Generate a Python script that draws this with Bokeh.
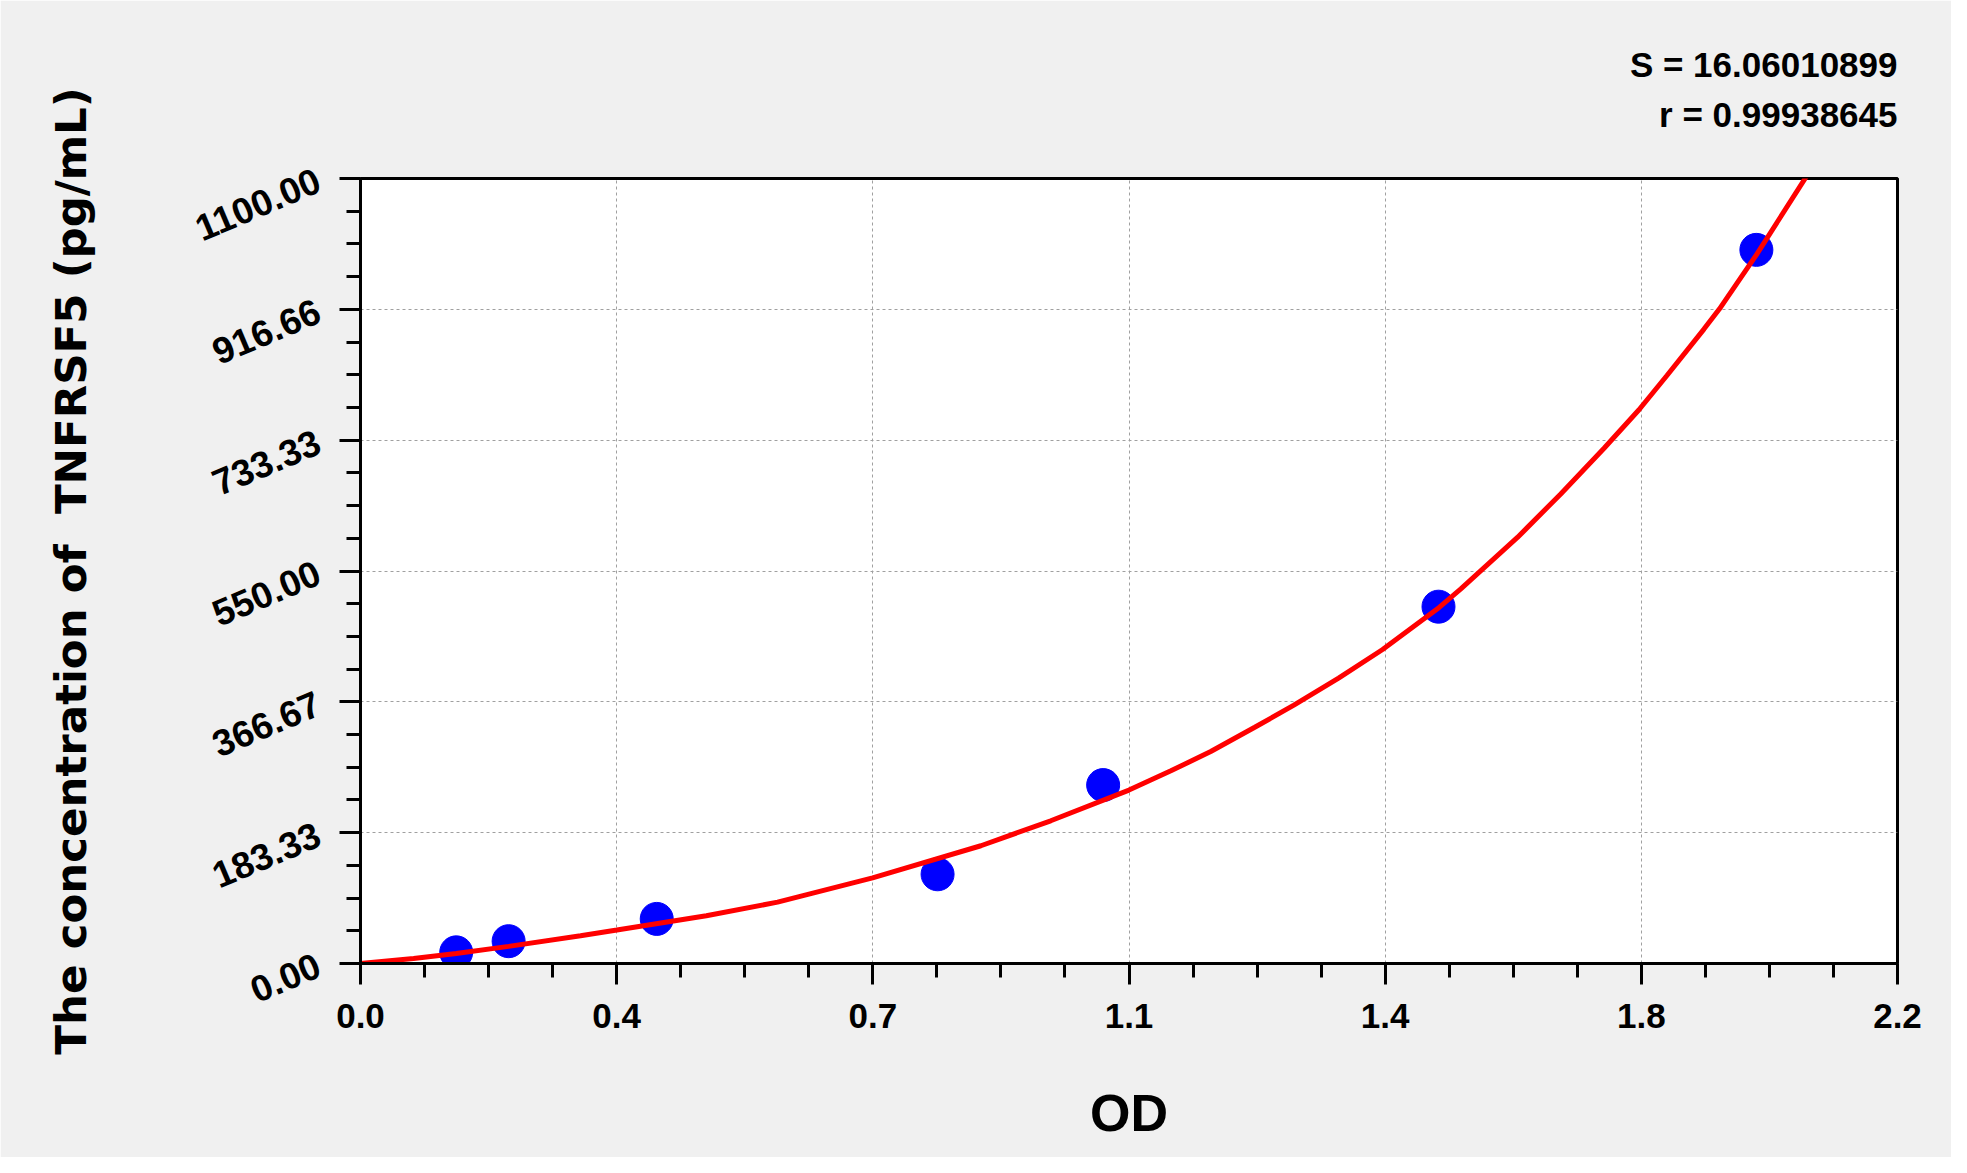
from bokeh.plotting import figure
from bokeh.models import FixedTicker, Range1d, Title
from bokeh.embed import file_html
from bokeh.resources import INLINE

# standard points (OD, concentration pg/mL)
od = [0.137, 0.212, 0.424, 0.826, 1.063, 1.543, 1.998]
conc = [15.63, 31.25, 62.5, 125.0, 250.0, 500.0, 1000.0]

# fitted curve
fit_od = [0.0, 0.076, 0.137, 0.212, 0.315, 0.367, 0.495, 0.597, 0.733, 0.888,
          0.988, 1.100, 1.160, 1.217, 1.280, 1.336, 1.400, 1.463, 1.544, 1.575,
          1.656, 1.718, 1.780, 1.830, 1.870, 1.923, 1.945, 1.998, 2.071]
fit_conc = [0.0, 7.0, 14.0, 24.0, 39.0, 47.0, 67.0, 86.0, 120.0, 165.0,
            200.0, 243.0, 270.0, 297.0, 331.0, 362.0, 400.0, 440.0, 499.0, 525.0,
            597.0, 658.0, 722.0, 776.0, 824.0, 889.0, 917.0, 993.0, 1105.0]

x_ticks = [0.0, 2.2 / 6, 4.4 / 6, 1.1, 8.8 / 6, 11.0 / 6, 2.2]
x_labels = ["0.0", "0.4", "0.7", "1.1", "1.4", "1.8", "2.2"]
y_ticks = [0.0, 1100 / 6, 2200 / 6, 550.0, 4400 / 6, 5500 / 6, 1100.0]
y_labels = ["0.00", "183.33", "366.67", "550.00", "733.33", "916.66", "1100.00"]

stat_lines = ["S = 16.06010899", "r = 0.99938645"]


def minors(ticks, n=4):
    return [a + (b - a) * k / n for a, b in zip(ticks[:-1], ticks[1:]) for k in range(1, n)]


p = figure(width=1951, height=1157, output_backend="svg", toolbar_location=None,
           x_range=Range1d(0, 2.2), y_range=Range1d(0, 1100),
           min_border_left=360, min_border_right=54, min_border_top=178,
           min_border_bottom=194)

p.background_fill_color = "white"
p.border_fill_color = "#f0f0f0"
p.outline_line_color = "black"
p.outline_line_width = 3

p.xaxis.ticker = FixedTicker(ticks=x_ticks, minor_ticks=minors(x_ticks))
p.yaxis.ticker = FixedTicker(ticks=y_ticks, minor_ticks=minors(y_ticks))
p.xaxis.major_label_overrides = {t: l for t, l in zip(x_ticks, x_labels)}
p.yaxis.major_label_overrides = {t: l for t, l in zip(y_ticks, y_labels)}

for ax in (p.xaxis, p.yaxis):
    ax.axis_line_width = 3
    ax.axis_line_color = "black"
    ax.major_tick_line_width = 3
    ax.minor_tick_line_width = 3
    ax.major_tick_line_color = "black"
    ax.minor_tick_line_color = "black"
    ax.major_tick_in = 0
    ax.minor_tick_in = 0
    ax.major_tick_out = 21
    ax.minor_tick_out = 14
    ax.major_label_text_font = "Liberation Sans"
    ax.major_label_text_font_style = "bold"
    ax.major_label_text_color = "black"
    ax.axis_label_text_font_style = "bold"
    ax.axis_label_text_color = "black"

p.xaxis.major_label_text_font_size = "35px"
p.yaxis.major_label_text_font_size = "37px"
p.yaxis.major_label_orientation = 0.40
p.yaxis.major_label_standoff = 21
p.xaxis.major_label_standoff = 19

p.xaxis.axis_label = "OD"
p.xaxis.axis_label_text_font = "Liberation Sans"
p.xaxis.axis_label_text_font_size = "52px"
p.xaxis.axis_label_standoff = 53

p.yaxis.axis_label = "The concentration of \u00a0TNFRSF5 (pg/mL)"
p.yaxis.axis_label_text_font = "DejaVu Sans"
p.yaxis.axis_label_text_font_size = "43.5px"
p.yaxis.axis_label_standoff = 88

p.grid.grid_line_color = "#a0a0a0"
p.grid.grid_line_dash = "3 3"
p.grid.grid_line_width = 1

p.scatter(od, conc, size=33, color="#0000ff", line_color="#0000ff")
p.line(fit_od, fit_conc, line_color="#ff0000", line_width=5)

# stacked above the frame, nearest first: spacer, r line, S line
spacer = Title(text="\u00a0", text_font="Liberation Sans", text_font_size="34px",
               standoff=0)
t_r = Title(text=stat_lines[1], align="right", text_font="Liberation Sans",
            text_font_style="bold", text_font_size="35px", text_color="black",
            standoff=10)
t_s = Title(text=stat_lines[0], align="right", text_font="Liberation Sans",
            text_font_style="bold", text_font_size="35px", text_color="black",
            standoff=8)
p.add_layout(spacer, "above")
p.add_layout(t_r, "above")
p.add_layout(t_s, "above")

html = file_html(p, INLINE)
html = html.replace("<body>", '<body style="background:#f0f0f0">', 1)
open("out.html", "w").write(html)
